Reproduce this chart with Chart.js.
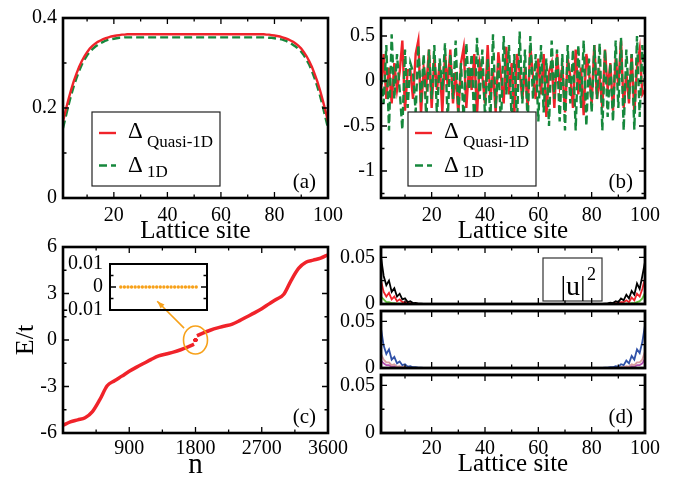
<!DOCTYPE html>
<html>
<head>
<meta charset="utf-8">
<script src="https://cdn.jsdelivr.net/npm/chart.js@4.4.1/dist/chart.umd.min.js"></script>
<style>
body{margin:0;background:#fff;}
#wrap{position:relative;width:681px;height:483px;overflow:hidden;background:#fff;}
canvas{position:absolute;left:0;top:0;}
</style>
</head>
<body>
<div id="wrap">
<canvas id="pA" width="681" height="483"></canvas>
<canvas id="pB" width="681" height="483"></canvas>
<canvas id="pC" width="681" height="483"></canvas>
<canvas id="pInset" width="681" height="483"></canvas>
<canvas id="pD1" width="681" height="483"></canvas>
<canvas id="pD2" width="681" height="483"></canvas>
<canvas id="pD3" width="681" height="483"></canvas>
</div>
<script>
var FONT = 'Liberation Serif';
var RED = '#f0232a', GREEN = '#16883c', ORANGE = '#f7a11a';

// lattice sites 1..100 (x categories for a, b, d)
var sites = [];
for (var i = 1; i <= 100; i++) sites.push(i);

// (a) pairing amplitude, uniform
var deltaQuasi = [
 0.170,0.195,0.218,0.240,0.259,0.276,0.291,0.304,0.315,0.324,
 0.332,0.338,0.343,0.347,0.350,0.353,0.355,0.357,0.359,0.360,
 0.361,0.362,0.363,0.363,0.364,0.364,0.364,0.364,0.364,0.364,
 0.364,0.364,0.364,0.364,0.364,0.364,0.364,0.364,0.364,0.364,
 0.364,0.364,0.364,0.364,0.364,0.364,0.364,0.364,0.364,0.364,
 0.364,0.364,0.364,0.364,0.364,0.364,0.364,0.364,0.364,0.364,
 0.364,0.364,0.364,0.364,0.364,0.364,0.364,0.364,0.364,0.364,
 0.364,0.364,0.364,0.364,0.364,0.364,0.363,0.363,0.362,0.361,
 0.360,0.359,0.357,0.355,0.353,0.350,0.347,0.343,0.338,0.332,
 0.324,0.315,0.304,0.291,0.276,0.259,0.240,0.218,0.195,0.170
];
var delta1D = [
 0.155,0.180,0.205,0.228,0.248,0.266,0.282,0.296,0.307,0.317,
 0.325,0.331,0.336,0.340,0.344,0.347,0.350,0.352,0.353,0.354,
 0.355,0.356,0.356,0.357,0.357,0.357,0.357,0.357,0.357,0.357,
 0.357,0.357,0.357,0.357,0.357,0.357,0.357,0.357,0.357,0.357,
 0.357,0.357,0.357,0.357,0.357,0.357,0.357,0.357,0.357,0.357,
 0.357,0.357,0.357,0.357,0.357,0.357,0.357,0.357,0.357,0.357,
 0.357,0.357,0.357,0.357,0.357,0.357,0.357,0.357,0.357,0.357,
 0.357,0.357,0.357,0.357,0.357,0.357,0.357,0.356,0.356,0.355,
 0.354,0.353,0.352,0.350,0.347,0.344,0.340,0.336,0.331,0.325,
 0.317,0.307,0.296,0.282,0.266,0.248,0.228,0.205,0.180,0.155
];

// (b) pairing amplitude, quasiperiodic
var deltaQuasiB = [
 -0.10, 0.30,-0.20, 0.15,-0.25, 0.20,-0.10, 0.10, 0.45,-0.33,
  0.12, 0.12,-0.20, 0.30, 0.45,-0.37, 0.15,-0.05, 0.35,-0.30,
  0.25,-0.10, 0.20,-0.35, 0.30,-0.05, 0.35,-0.25, 0.10,-0.38,
  0.20, 0.37,-0.30, 0.15,-0.10, 0.30,-0.38, 0.20, 0.05,-0.25,
  0.40,-0.20, 0.10,-0.35, 0.32, 0.05,-0.25, 0.38,-0.15, 0.20,
 -0.38, 0.30, 0.10,-0.20, 0.15,-0.30, 0.38, 0.05,-0.20, 0.25,
 -0.15, 0.30,-0.40, 0.10, 0.20,-0.30, 0.30,-0.05, 0.15,-0.35,
  0.25, 0.05,-0.30, 0.35,-0.15, 0.15,-0.38, 0.30, 0.10,-0.25,
  0.40,-0.20, 0.05,-0.30, 0.35,-0.10, 0.20,-0.33, 0.25,-0.05,
  0.45,-0.30, 0.10,-0.25, 0.30,-0.35, 0.15, 0.35,-0.15,-0.10
];
var delta1DB = [
  0.05,-0.25, 0.40,-0.55, 0.52,-0.20, 0.30,-0.10,-0.54, 0.35,
 -0.30, 0.20, 0.10,-0.35, 0.40,-0.25, 0.30,-0.45, 0.35,-0.20,
  0.40,-0.40, 0.25,-0.10, 0.42,-0.45, 0.30,-0.20, 0.45,-0.35,
  0.20,-0.45, 0.42,-0.10, 0.30,-0.50, 0.48,-0.20, 0.35,-0.40,
  0.25,-0.45, 0.52,-0.30, 0.20,-0.50, 0.50,-0.15, 0.40,-0.45,
  0.30,-0.50, 0.55,-0.25, 0.35,-0.50, 0.50,-0.20, 0.30,-0.45,
  0.40,-0.35, 0.25,-0.50, 0.45,-0.20, 0.35,-0.45, 0.30,-0.55,
  0.40,-0.25, 0.35,-0.55, 0.40,-0.30, 0.45,-0.50, 0.25,-0.35,
  0.40,-0.20, 0.42,-0.55, 0.35,-0.40, 0.20,-0.45, 0.45,-0.30,
  0.48,-0.55, 0.35,-0.20, 0.30,-0.54, 0.50,-0.40, 0.40,-0.10
];

// (c) spectrum E/t vs n
var nLow  = [0,100,200,300,400,500,600,700,800,900,1000,1100,1200,1300,1400,1500,1600,1700,1780];
var eLow  = [-5.50,-5.28,-5.15,-5.02,-4.62,-3.85,-2.95,-2.63,-2.33,-2.02,-1.75,-1.50,-1.25,-1.03,-0.90,-0.78,-0.63,-0.45,-0.27];
var nHigh = [1820,1900,2000,2100,2200,2300,2400,2500,2600,2700,2800,2900,3000,3100,3200,3300,3400,3500,3600];
var eHigh = [0.27,0.45,0.63,0.78,0.90,1.03,1.25,1.50,1.75,2.02,2.33,2.63,2.95,3.85,4.62,5.02,5.15,5.28,5.50];
// zero modes (inset)
var nZero = [1789,1790,1791,1792,1793,1794,1795,1796,1797,1798,1799,1800,1801,1802,1803,1804,1805,1806,1807,1808,1809,1810];
var eZero = [0,0,0,0,0,0,0,0,0,0,0,0,0,0,0,0,0,0,0,0,0,0];

// (d) |u|^2 of edge modes
var u2Black = [
 0.050,0.030,0.020,0.025,0.013,0.017,0.008,0.011,0.005,0.006,
 0.002,0.003,0.001,0.0012,0.0005,0.0004,0.0002,0.0001,0,0,
 0,0,0,0,0,0,0,0,0,0,
 0,0,0,0,0,0,0,0,0,0,
 0,0,0,0,0,0,0,0,0,0,
 0,0,0,0,0,0,0,0,0,0,
 0,0,0,0,0,0,0,0,0,0,
 0,0,0,0,0,0,0,0,0,0,
 0,0,0.0001,0.0002,0.0004,0.0006,0.0015,0.001,0.003,0.002,
 0.006,0.004,0.010,0.006,0.014,0.010,0.022,0.016,0.030,0.045
];
var u2Red = [
 0.025,0.013,0.008,0.012,0.005,0.008,0.003,0.005,0.002,0.002,
 0.001,0.001,0.0005,0.0005,0.0002,0.0001,0,0,0,0,
 0,0,0,0,0,0,0,0,0,0,
 0,0,0,0,0,0,0,0,0,0,
 0,0,0,0,0,0,0,0,0,0,
 0,0,0,0,0,0,0,0,0,0,
 0,0,0,0,0,0,0,0,0,0,
 0,0,0,0,0,0,0,0,0,0,
 0,0,0,0,0,0.0002,0.0005,0.0005,0.001,0.001,
 0.002,0.002,0.004,0.002,0.007,0.004,0.011,0.008,0.016,0.028
];
var u2Green = [
 0.008,0.005,0.002,0.002,0.001,0.001,0.0005,0.0005,0.0002,0.0002,
 0,0,0,0,0,0,0,0,0,0,
 0,0,0,0,0,0,0,0,0,0,
 0,0,0,0,0,0,0,0,0,0,
 0,0,0,0,0,0,0,0,0,0,
 0,0,0,0,0,0,0,0,0,0,
 0,0,0,0,0,0,0,0,0,0,
 0,0,0,0,0,0,0,0,0,0,
 0,0,0,0,0,0,0,0,0,0,
 0.0002,0.0002,0.0005,0.0005,0.001,0.001,0.002,0.003,0.006,0.012
];
var u2Blue = [
 0.042,0.024,0.015,0.020,0.009,0.012,0.005,0.007,0.003,0.004,
 0.0015,0.002,0.0008,0.0008,0.0003,0.0003,0.0001,0.0001,0,0,
 0,0,0,0,0,0,0,0,0,0,
 0,0,0,0,0,0,0,0,0,0,
 0,0,0,0,0,0,0,0,0,0,
 0,0,0,0,0,0,0,0,0,0,
 0,0,0,0,0,0,0,0,0,0,
 0,0,0,0,0,0,0,0,0,0,
 0,0,0.0001,0.0001,0.0003,0.0003,0.0008,0.0008,0.002,0.0015,
 0.004,0.003,0.008,0.005,0.013,0.009,0.020,0.016,0.028,0.046
];
var u2Pink = [
 0.015,0.009,0.006,0.006,0.003,0.004,0.0015,0.002,0.0008,0.001,
 0.0004,0.0004,0.0001,0.0001,0,0,0,0,0,0,
 0,0,0,0,0,0,0,0,0,0,
 0,0,0,0,0,0,0,0,0,0,
 0,0,0,0,0,0,0,0,0,0,
 0,0,0,0,0,0,0,0,0,0,
 0,0,0,0,0,0,0,0,0,0,
 0,0,0,0,0,0,0,0,0,0,
 0,0,0,0,0,0,0.0001,0.0001,0.0004,0.0004,
 0.001,0.0008,0.002,0.0015,0.004,0.003,0.006,0.006,0.009,0.018
];
var u2Purple = [
 0.008,0.005,0.003,0.003,0.0015,0.002,0.0008,0.001,0.0004,0.0004,
 0.0001,0.0001,0,0,0,0,0,0,0,0,
 0,0,0,0,0,0,0,0,0,0,
 0,0,0,0,0,0,0,0,0,0,
 0,0,0,0,0,0,0,0,0,0,
 0,0,0,0,0,0,0,0,0,0,
 0,0,0,0,0,0,0,0,0,0,
 0,0,0,0,0,0,0,0,0,0,
 0,0,0,0,0,0,0,0,0.0001,0.0001,
 0.0004,0.0004,0.001,0.0008,0.002,0.0015,0.003,0.003,0.005,0.010
];

function pts(xs, ys){
    return ys.map(function(y, i){ return {x: xs[i], y: y}; });
}

function main(){
    panelA();
    panelB();
    panelC();
    panelInset();
    panelD();
}

// frame + inward ticks + extra drawing
function deco(o){
    return {
        id: 'deco',
        afterDraw: function(chart){
            var ctx = chart.ctx, a = chart.chartArea;
            var xs = chart.scales.x, ys = chart.scales.y;
            ctx.save();
            if (o.draw) o.draw(chart, ctx, a);
            ctx.strokeStyle = '#000';
            ctx.lineWidth = 1.3;
            ctx.setLineDash([]);
            ctx.beginPath();
            function xt(vals, len){
                (vals || []).forEach(function(v){
                    var p = xs.getPixelForValue(v);
                    ctx.moveTo(p, a.bottom); ctx.lineTo(p, a.bottom - len);
                    ctx.moveTo(p, a.top); ctx.lineTo(p, a.top + len);
                });
            }
            function yt(vals, len){
                (vals || []).forEach(function(v){
                    var p = ys.getPixelForValue(v);
                    ctx.moveTo(a.left, p); ctx.lineTo(a.left + len, p);
                    ctx.moveTo(a.right, p); ctx.lineTo(a.right - len, p);
                });
            }
            xt(o.xMaj, 6); xt(o.xMin, 3.5);
            yt(o.yMaj, 6); yt(o.yMin, 3.5);
            ctx.stroke();
            ctx.lineWidth = o.frame || 2.6;
            ctx.strokeRect(a.left, a.top, a.width, a.height);
            if (o.tag){
                ctx.fillStyle = '#000';
                ctx.font = '21px "' + FONT + '"';
                ctx.textAlign = 'right';
                ctx.textBaseline = 'middle';
                ctx.fillText(o.tag, a.right - 12, a.bottom - 16);
            }
            ctx.restore();
        }
    };
}

function axis(min, max, major, size, opts){
    var s = {
        type: 'linear',
        min: min,
        max: max,
        grid: {display: false, drawTicks: false},
        border: {display: false},
        afterBuildTicks: function(sc){
            sc.ticks = major.map(function(v){ return {value: v}; });
        },
        ticks: {
            autoSkip: false,
            maxRotation: 0,
            padding: 6,
            color: '#000',
            font: {family: FONT, size: 20},
            callback: function(v){ return String(v); }
        }
    };
    if (size.w !== undefined) s.afterFit = function(sc){ sc.width = size.w; };
    if (size.h !== undefined) s.afterFit = function(sc){ sc.height = size.h; };
    for (var k in opts) s[k] = opts[k];
    return s;
}

function title(text, size){
    return {display: true, text: text, color: '#000', padding: 0,
            font: {family: FONT, size: size, lineHeight: 1}};
}

function panel(id, box, H, datasets, sx, sy, d){
    var W = 50;
    return new Chart(id, {
        type: 'line',
        data: {datasets: datasets},
        options: {
            responsive: false,
            animation: false,
            devicePixelRatio: 1,
            layout: {padding: {left: box[0] - W, top: box[1], right: 681 - box[2], bottom: 483 - box[3] - H}},
            plugins: {legend: {display: false}, tooltip: {enabled: false}},
            elements: {point: {radius: 0}, line: {tension: 0}},
            scales: {x: sx, y: sy}
        },
        plugins: [deco(d)]
    });
}

function deltaLegend(ctx, a, dx){
    var x = a.left + dx, y = a.bottom - 86, w = 128, h = 74;
    ctx.fillStyle = '#fff';
    ctx.fillRect(x, y, w, h);
    ctx.strokeStyle = '#222';
    ctx.lineWidth = 1.2;
    ctx.strokeRect(x, y, w, h);
    ctx.lineWidth = 2.4;
    ctx.strokeStyle = RED;
    ctx.beginPath(); ctx.moveTo(x + 7, y + 21); ctx.lineTo(x + 24, y + 21); ctx.stroke();
    ctx.strokeStyle = GREEN;
    ctx.setLineDash([8, 4]);
    ctx.beginPath(); ctx.moveTo(x + 7, y + 53.5); ctx.lineTo(x + 24, y + 53.5); ctx.stroke();
    ctx.setLineDash([]);
    ctx.fillStyle = '#000';
    ctx.textAlign = 'left';
    ctx.textBaseline = 'alphabetic';
    ctx.font = '23px "' + FONT + '"';
    ctx.fillText('\u0394', x + 36, y + 26);
    ctx.fillText('\u0394', x + 36, y + 60);
    ctx.font = '17px "' + FONT + '"';
    ctx.fillText('Quasi-1D', x + 55, y + 35);
    ctx.fillText('1D', x + 55, y + 65);
}

function panelA(){
    panel('pA', [63, 13, 328, 198], 46, [
        {data: pts(sites, deltaQuasi), borderColor: RED, borderWidth: 2.4},
        {data: pts(sites, delta1D), borderColor: GREEN, borderWidth: 2.4, borderDash: [8, 4]}
    ],
    axis(1, 100, [20, 40, 60, 80, 100], {h: 46}, {title: title('Lattice site', 25)}),
    axis(0, 0.4, [0, 0.2, 0.4], {w: 50}, {}),
    {xMaj: [20, 40, 60, 80], xMin: [10, 30, 50, 70, 90], yMaj: [0.2], yMin: [0.1, 0.3], tag: '(a)',
     draw: function(chart, ctx, a){ deltaLegend(ctx, a, 29); }});
}

function panelB(){
    panel('pB', [381, 13, 645, 198], 46, [
        {data: pts(sites, delta1DB), borderColor: GREEN, borderWidth: 2.4, borderDash: [8, 4]},
        {data: pts(sites, deltaQuasiB), borderColor: RED, borderWidth: 2.4}
    ],
    axis(1, 100, [20, 40, 60, 80, 100], {h: 46}, {title: title('Lattice site', 25)}),
    axis(-1.3, 0.7, [-1, -0.5, 0, 0.5], {w: 50}, {}),
    {xMaj: [20, 40, 60, 80], xMin: [10, 30, 50, 70, 90], yMaj: [-1, -0.5, 0, 0.5], yMin: [-1.25, -0.75, -0.25, 0.25], tag: '(b)',
     draw: function(chart, ctx, a){ deltaLegend(ctx, a, 27); }});
}

function panelC(){
    var sx = axis(0, 3600, [900, 1800, 2700, 3600], {h: 47}, {title: title('n', 29)});
    sx.ticks.padding = 4;
    panel('pC', [63, 247, 328, 433], 47, [
        {data: pts(nLow, eLow), borderColor: RED, borderWidth: 3.5, cubicInterpolationMode: 'monotone'},
        {data: pts(nHigh, eHigh), borderColor: RED, borderWidth: 3.5, cubicInterpolationMode: 'monotone'},
        {data: pts(nZero, eZero), showLine: false, pointRadius: 1.5, pointBackgroundColor: RED, pointBorderWidth: 0}
    ],
    sx,
    axis(-6, 6, [-6, -3, 0, 3, 6], {w: 50}, {title: title('E/t', 26)}),
    {xMaj: [900, 1800, 2700], xMin: [450, 1350, 2250, 3150], yMaj: [-3, 0, 3], yMin: [-4.5, -1.5, 1.5, 4.5], tag: '(c)',
     draw: function(chart, ctx, a){
        var xs = chart.scales.x, ys = chart.scales.y;
        ctx.strokeStyle = ORANGE;
        ctx.fillStyle = ORANGE;
        ctx.lineWidth = 1.6;
        ctx.beginPath();
        ctx.ellipse(xs.getPixelForValue(1800), ys.getPixelForValue(0), 12, 14, 0, 0, 2 * Math.PI);
        ctx.stroke();
        var x0 = xs.getPixelForValue(1645), y0 = ys.getPixelForValue(0.77);
        var x1 = xs.getPixelForValue(1280), y1 = ys.getPixelForValue(2.5);
        ctx.beginPath();
        ctx.moveTo(x0, y0); ctx.lineTo(x1, y1);
        ctx.stroke();
        var ang = Math.atan2(y1 - y0, x1 - x0);
        ctx.beginPath();
        ctx.moveTo(x1, y1);
        ctx.lineTo(x1 - 8 * Math.cos(ang - 0.35), y1 - 8 * Math.sin(ang - 0.35));
        ctx.lineTo(x1 - 8 * Math.cos(ang + 0.35), y1 - 8 * Math.sin(ang + 0.35));
        ctx.closePath();
        ctx.fill();
     }});
}

function panelInset(){
    var sy = axis(-0.01, 0.01, [-0.01, 0, 0.01], {w: 50}, {});
    sy.ticks.padding = 7;
    panel('pInset', [110, 264, 207, 310], 0, [
        {data: pts(nZero, eZero), showLine: false, pointRadius: 1.7, pointBackgroundColor: ORANGE, pointBorderWidth: 0}
    ],
    {type: 'linear', min: 1786, max: 1813, display: false},
    sy,
    {frame: 2, yMaj: [0], yMin: [-0.005, 0.005]});
}

function panelD(){
    var yMaj = [0, 0.05];
    var common = {xMaj: [20, 40, 60, 80], xMin: [10, 30, 50, 70, 90], yMaj: [0.05], yMin: [0.025], frame: 2.8};

    var sx1 = axis(1, 100, [20, 40, 60, 80, 100], {h: 0}, {});
    sx1.ticks.display = false;
    panel('pD1', [381, 247, 645, 304], 0, [
        {data: pts(sites, u2Black), borderColor: '#000', borderWidth: 1.8},
        {data: pts(sites, u2Red), borderColor: RED, borderWidth: 1.8},
        {data: pts(sites, u2Green), borderColor: '#5fc23c', borderWidth: 1.8}
    ],
    sx1,
    axis(0, 0.061, yMaj, {w: 50}, {}),
    Object.assign({}, common, {draw: function(chart, ctx, a){
        var x = a.left + 162, y = a.top + 11;
        ctx.fillStyle = '#fff';
        ctx.fillRect(x, y, 59, 43);
        ctx.strokeStyle = '#333';
        ctx.lineWidth = 1.2;
        ctx.strokeRect(x, y, 59, 43);
        ctx.fillStyle = '#000';
        ctx.textAlign = 'center';
        ctx.textBaseline = 'alphabetic';
        ctx.font = '28px "' + FONT + '"';
        ctx.fillText('|u|', x + 30, y + 37);
        ctx.textAlign = 'left';
        ctx.font = '18px "' + FONT + '"';
        ctx.fillText('2', x + 44, y + 22);
    }}));

    var sx2 = axis(1, 100, [20, 40, 60, 80, 100], {h: 0}, {});
    sx2.ticks.display = false;
    panel('pD2', [381, 311, 645, 368], 0, [
        {data: pts(sites, u2Blue), borderColor: '#3152a8', borderWidth: 1.8},
        {data: pts(sites, u2Pink), borderColor: '#d99aa0', borderWidth: 1.8},
        {data: pts(sites, u2Purple), borderColor: '#b34fb0', borderWidth: 1.8}
    ],
    sx2,
    axis(0, 0.061, yMaj, {w: 50}, {}),
    common);

    var sx3 = axis(1, 100, [20, 40, 60, 80, 100], {h: 44}, {title: title('Lattice site', 25)});
    sx3.ticks.padding = 4;
    panel('pD3', [381, 375, 645, 433], 44, [],
    sx3,
    axis(0, 0.061, yMaj, {w: 50}, {}),
    Object.assign({}, common, {tag: '(d)'}));
}

main();
</script>
</body>
</html>
